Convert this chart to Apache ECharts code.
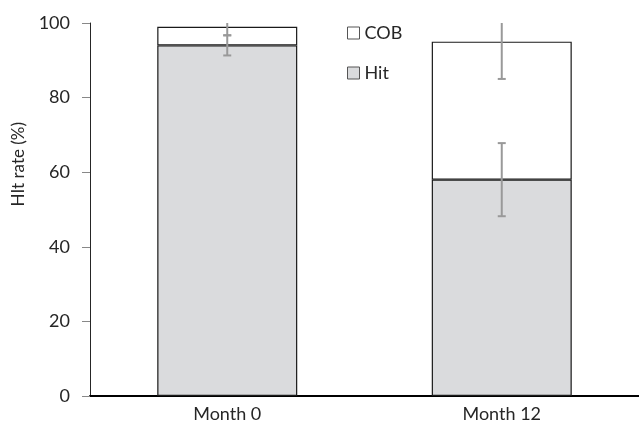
<!DOCTYPE html>
<html><head><meta charset="utf-8">
<script src="https://cdn.jsdelivr.net/npm/echarts@6/dist/echarts.min.js"></script>
<style>html,body{margin:0;padding:0;background:#fff}#c{width:639px;height:423px}</style>
</head><body><div id="c"></div>
<script>
const categories = ['Month 0', 'Month 12'];
const hitValues = [94, 58];
const cobValues = [5, 37];
const hitErr = [2.7, 9.8];
const cobErr = [2.3, 10];
const yTicks = [0, 20, 40, 60, 80, 100];

const FONT = 'Lato';
const chart = echarts.init(document.getElementById('c'));

const errData = [];
for (let i = 0; i < categories.length; i++) {
  errData.push([i, hitValues[i], hitErr[i]]);
  errData.push([i, hitValues[i] + cobValues[i], cobErr[i]]);
}

chart.setOption({
  animation: false,
  textStyle: { fontFamily: FONT },
  grid: { left: 90, right: 0, top: 23, bottom: 27 },
  legend: {
    orient: 'vertical', left: 342, top: 19, itemWidth: 12, itemHeight: 12, itemGap: 22,
    textStyle: { fontFamily: FONT, fontSize: 18, color: '#262626' },
    data: [
      { name: 'COB', icon: 'rect', itemStyle: { color: '#fff', borderColor: '#555', borderWidth: 1 } },
      { name: 'Hit', icon: 'rect', itemStyle: { color: '#dadbdd', borderColor: '#555', borderWidth: 1 } }
    ]
  },
  xAxis: {
    type: 'category', data: categories,
    axisLine: { lineStyle: { color: '#000', width: 2 } },
    axisTick: { show: false },
    axisLabel: { fontFamily: FONT, fontSize: 18, color: '#262626', margin: 9 }
  },
  yAxis: {
    type: 'value', min: 0, max: 100, interval: 20,
    axisLine: { show: true, lineStyle: { color: '#262626', width: 1 } },
    axisTick: { show: true, length: 8, lineStyle: { color: '#888', width: 1 } },
    splitLine: { show: false },
    axisLabel: { fontFamily: FONT, fontSize: 18, color: '#262626', margin: 20,
      formatter: v => yTicks.includes(v) ? String(v) : '' }
  },
  graphic: [{
    type: 'text', left: 10, top: 122, rotation: Math.PI / 2,
    style: { text: 'HIt rate (%)', fontFamily: FONT, fontSize: 17, fill: '#262626' }
  }],
  series: [
    { name: 'Hit', type: 'bar', stack: 's', data: hitValues, barWidth: '51%',
      itemStyle: { color: '#dadbdd', borderColor: '#1a1a1a', borderWidth: 1.2 } },
    { name: 'COB', type: 'bar', stack: 's', data: cobValues, barWidth: '51%',
      itemStyle: { color: '#fff', borderColor: '#1a1a1a', borderWidth: 1.2 } },
    { name: 'err', type: 'custom', data: errData, clip: true, z: 10,
      renderItem: function (params, api) {
        const x = api.value(0), v = api.value(1), e = api.value(2);
        const hi = api.coord([x, v + e]);
        const lo = api.coord([x, v - e]);
        const hw = 4;
        const st = { stroke: '#999', lineWidth: 2 };
        return { type: 'group', children: [
          { type: 'line', shape: { x1: hi[0], y1: hi[1], x2: lo[0], y2: lo[1] }, style: st },
          { type: 'line', shape: { x1: hi[0] - hw, y1: hi[1], x2: hi[0] + hw, y2: hi[1] }, style: st },
          { type: 'line', shape: { x1: lo[0] - hw, y1: lo[1], x2: lo[0] + hw, y2: lo[1] }, style: st }
        ]};
      }
    }
  ]
});
</script></body></html>
